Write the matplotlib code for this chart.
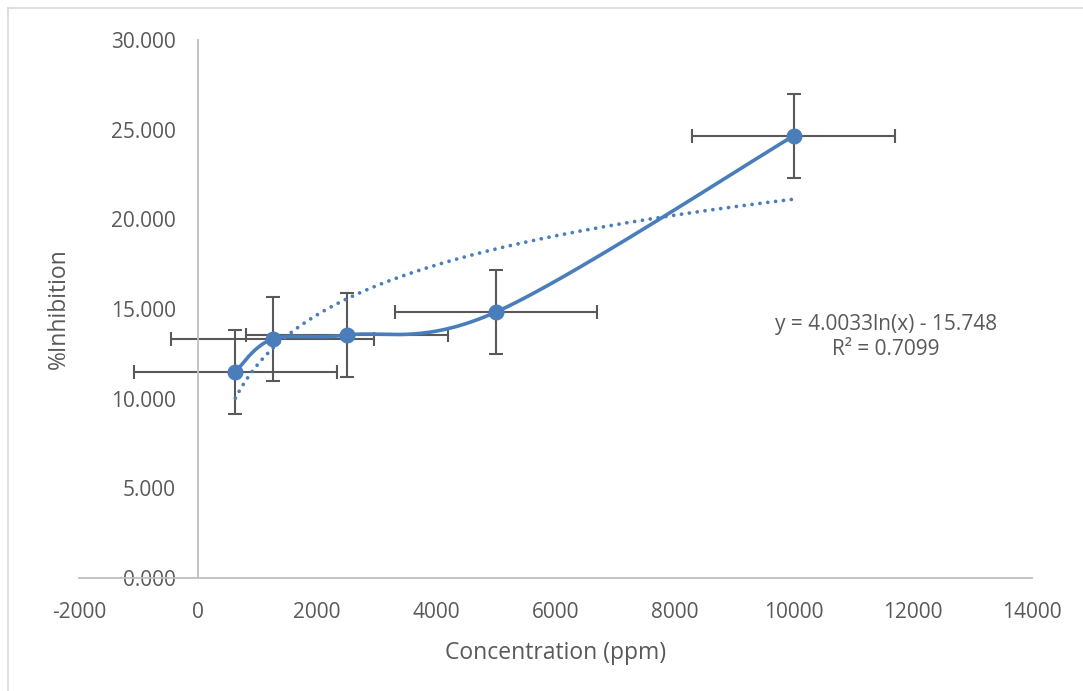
import numpy as np
import matplotlib.pyplot as plt
from matplotlib.lines import Line2D

plt.rcParams['font.family'] = ['Open Sans', 'DejaVu Sans']
plt.rcParams['axes.unicode_minus'] = False

# data
conc = [625, 1250, 2500, 5000, 10000]
inhib = [11.50, 13.32, 13.55, 14.83, 24.66]
xerr = [1700, 1700, 1700, 1700, 1700]
yerr = [2.33, 2.33, 2.33, 2.33, 2.33]

# trendline shown on the chart
a_coef = 4.0033
b_coef = -15.748
eq_text = "y = 4.0033ln(x) - 15.748"
r2_text = "R² = 0.7099"

xticks = [-2000, 0, 2000, 4000, 6000, 8000, 10000, 12000, 14000]
yticks = [0, 5, 10, 15, 20, 25, 30]

blue = "#4a7ebb"
grey_txt = "#595959"
axis_col = "#bfbfbf"


def smooth(px, py, n=60):
    # excel style bezier smoothing
    pts = np.column_stack([px, py]).astype(float)
    out = []
    for i in range(len(pts) - 1):
        p0 = pts[i - 1] if i > 0 else pts[i]
        p1 = pts[i]
        p2 = pts[i + 1]
        p3 = pts[i + 2] if i + 2 < len(pts) else pts[i + 1]
        c1 = p1 + (p2 - p0) / 6
        c2 = p2 - (p3 - p1) / 6
        t = np.linspace(0, 1, n)[:, None]
        seg = (1 - t)**3 * p1 + 3 * (1 - t)**2 * t * c1 + 3 * (1 - t) * t**2 * c2 + t**3 * p2
        out.append(seg)
    out = np.vstack(out)
    return out[:, 0], out[:, 1]


W, H = 1083, 691
fig = plt.figure(figsize=(W / 100, H / 100), dpi=100)
ax = fig.add_axes([79/W, 1 - 578/H, (1032 - 79)/W, (578 - 40)/H])

# figure border (left and top only visible)
fig.add_artist(Line2D([8/W, 8/W], [0, 1 - 8/H], transform=fig.transFigure, color="#d9d9d9", lw=1.2))
fig.add_artist(Line2D([8/W, 1], [1 - 8/H, 1 - 8/H], transform=fig.transFigure, color="#d9d9d9", lw=1.2))

ax.errorbar(conc, inhib, xerr=xerr, yerr=yerr, fmt="none", ecolor=grey_txt,
            elinewidth=1.5, capsize=5, capthick=1.5, zorder=2)

sx, sy = smooth(conc, inhib)
ax.plot(sx, sy, color=blue, lw=2.6, zorder=3, solid_capstyle="round")
ax.plot(conc, inhib, "o", color=blue, ms=10.5, zorder=4)

tx = np.linspace(min(conc), max(conc), 400)
ty = a_coef * np.log(tx) + b_coef
ax.plot(tx, ty, color=blue, lw=2.7, linestyle=(0, (0.01, 2.1)), dash_capstyle="round", zorder=3)

ax.text(11550, 13.45, eq_text + "\n" + r2_text, ha="center", va="center",
        fontsize=15, color=grey_txt, linespacing=1.25)

ax.set_xlim(-2000, 14000)
ax.set_ylim(0, 30)
ax.set_xticks(xticks)
ax.set_yticks(yticks)
ax.set_yticklabels(["%.3f" % v for v in yticks])

for s in ["top", "right"]:
    ax.spines[s].set_visible(False)
ax.spines["left"].set_position(("data", 0))
ax.spines["left"].set_color(axis_col)
ax.spines["bottom"].set_color(axis_col)
ax.spines["left"].set_linewidth(1.3)
ax.spines["bottom"].set_linewidth(1.3)
ax.tick_params(length=0, labelsize=15, labelcolor=grey_txt)
ax.tick_params(axis="y", pad=16)
ax.tick_params(axis="x", pad=17)

ax.set_xlabel("Concentration (ppm)", fontsize=16.5, color=grey_txt, labelpad=13)
ax.set_ylabel("%Inhibition", fontsize=16.5, color=grey_txt)
ax.yaxis.set_label_coords((71 - 79) / (1032 - 79), (578 - 309) / (578 - 40))

fig.savefig("out.png", dpi=100)
